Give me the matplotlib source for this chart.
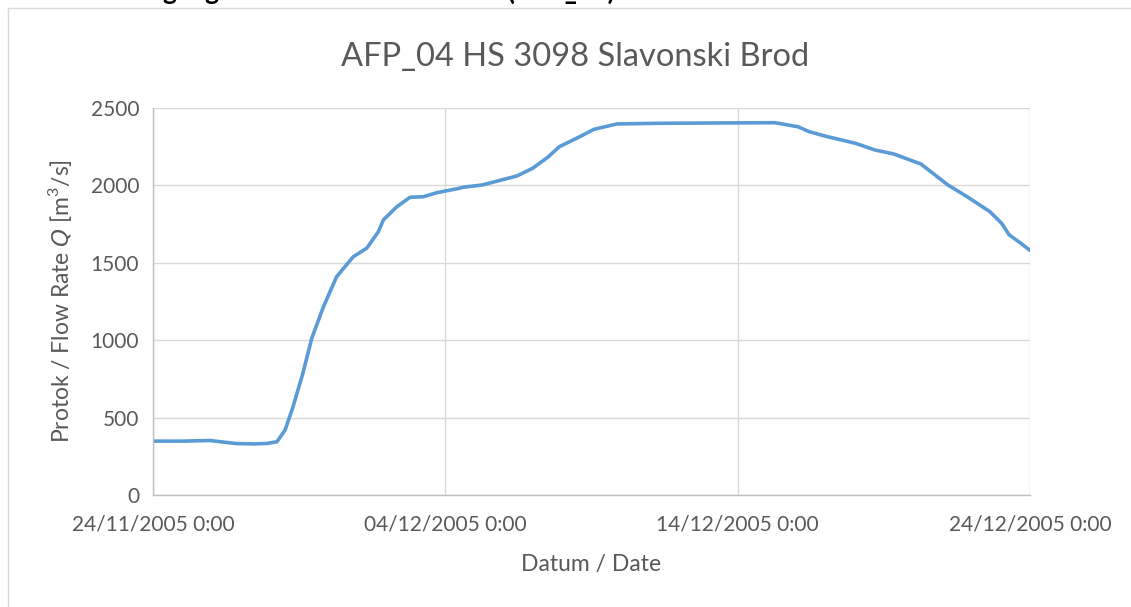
import numpy as np
import pandas as pd
import matplotlib
matplotlib.use('Agg')
import matplotlib.pyplot as plt
from matplotlib.lines import Line2D

plt.rcParams['font.family'] = ['Lato', 'DejaVu Sans']
plt.rcParams['mathtext.fontset'] = 'custom'
plt.rcParams['mathtext.rm'] = 'Lato'
plt.rcParams['mathtext.it'] = 'DejaVu Sans:italic'

# days since 24/11/2005 0:00 and discharge Q [m3/s]
days = [0.0, 1.0, 1.95, 2.4, 2.87, 3.5, 3.9, 4.24, 4.52, 4.79, 5.13, 5.43,
        5.83, 6.28, 6.85, 7.31, 7.71, 7.88, 8.34, 8.79, 9.25, 9.71, 10.45,
        10.61, 11.27, 11.92, 12.45, 12.98, 13.50, 13.90, 14.56, 15.08, 15.87,
        17.19, 19.0, 21.27, 22.06, 22.45, 22.98, 24.03, 24.69, 25.34, 26.27,
        26.53, 27.19, 27.85, 28.63, 29.03, 29.29, 29.69, 30.0]
flow = [348, 348, 352, 342, 332, 330, 333, 344, 420, 570, 788, 1012,
        1216, 1410, 1539, 1594, 1701, 1777, 1862, 1923, 1927, 1953, 1980,
        1988, 2003, 2035, 2061, 2110, 2181, 2250, 2311, 2362, 2397,
        2401, 2403, 2405, 2379, 2347, 2319, 2272, 2229, 2203, 2138,
        2100, 2003, 1927, 1830, 1755, 1680, 1626, 1580]

start = pd.Timestamp('2005-11-24 00:00')
xticks = pd.to_datetime(['2005-11-24', '2005-12-04', '2005-12-14', '2005-12-24'])
xticklabels = ['24/11/2005 0:00', '04/12/2005 0:00', '14/12/2005 0:00', '24/12/2005 0:00']
yticks = [0, 500, 1000, 1500, 2000, 2500]

t = start + pd.to_timedelta(np.array(days), unit='D')

grey = '#595959'
fig = plt.figure(figsize=(11.31, 6.07), dpi=100)
ax = fig.add_axes([153/1131, 1 - 495/607, (1030 - 153)/1131, (495 - 108)/607])

ax.plot(t, flow, color='#5b9bd5', linewidth=2.6, solid_capstyle='round')

ax.set_xlim(xticks[0], xticks[-1])
ax.set_ylim(0, 2500)
ax.set_xticks(xticks)
ax.set_xticklabels(xticklabels)
ax.set_yticks(yticks)
ax.grid(True, color='#d9d9d9', linewidth=1.0)
ax.set_axisbelow(True)
ax.tick_params(axis='both', length=0, labelsize=15, colors=grey)
ax.tick_params(axis='x', pad=14)
ax.tick_params(axis='y', pad=10)
for s in ['top', 'right']:
    ax.spines[s].set_visible(False)
for s in ['left', 'bottom']:
    ax.spines[s].set_color('#bfbfbf')
    ax.spines[s].set_linewidth(1.0)

# chart title, centred on the chart frame rather than the plot area
fig.text(575/1131, 1 - 57/607, 'AFP_04 HS 3098 Slavonski Brod', fontsize=23.5,
         color=grey, ha='center', va='center')
ax.set_xlabel('Datum / Date', fontsize=16.5, color=grey, labelpad=14)
ax.set_ylabel('Protok / Flow Rate $\\mathit{Q}$ [m$^3$/s]', fontsize=16.5, color=grey, labelpad=12)

# outer chart frame and cut-off heading above it
fig.add_artist(Line2D([8/1131, 1], [1 - 8/607, 1 - 8/607], color='#d9d9d9', linewidth=1.0))
fig.add_artist(Line2D([8/1131, 8/1131], [0, 1 - 8/607], color='#d9d9d9', linewidth=1.0))
fig.text(615/1131, 1 + 0.5/607, 'The gauge station Slavonski Brod (AFP_04)',
         ha='right', va='baseline', fontsize=19, fontweight='bold', color='black')

fig.savefig('out.png', dpi=100)
